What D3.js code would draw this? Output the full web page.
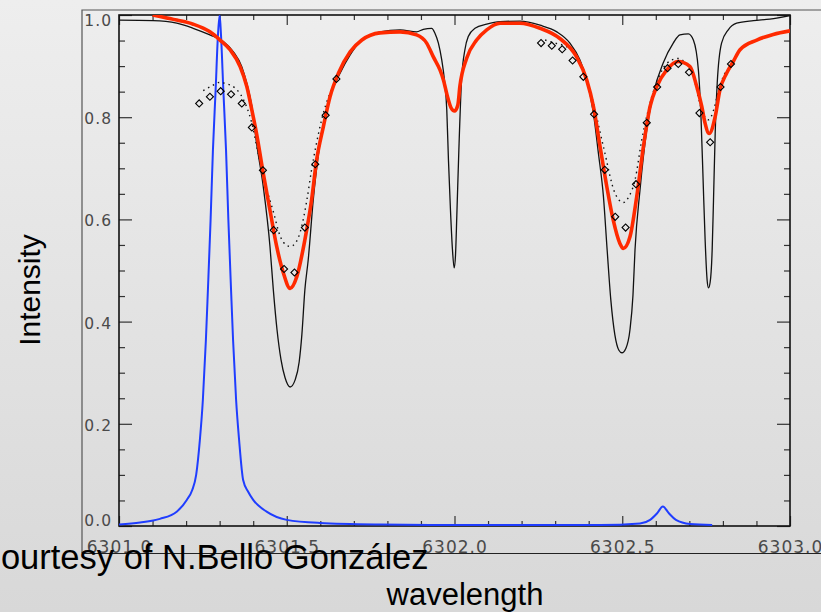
<!DOCTYPE html>
<html>
<head>
<meta charset="utf-8">
<script src="https://cdn.jsdelivr.net/npm/d3@7"></script>
<style>
  html, body { margin: 0; padding: 0; }
  body { width: 821px; height: 612px; overflow: hidden; }
</style>
</head>
<body>
<div id="chart"></div>
<script>
// wavelength (A) / intensity pairs
const atlasWave = [6301.000, 6301.102, 6301.172, 6301.221, 6301.271, 6301.311, 6301.341, 6301.366, 6301.381, 6301.396,
  6301.410, 6301.430, 6301.450, 6301.460, 6301.471, 6301.483, 6301.495, 6301.510, 6301.525, 6301.537,
  6301.545, 6301.554, 6301.564, 6301.579, 6301.599, 6301.629, 6301.659, 6301.689, 6301.724, 6301.778,
  6301.838, 6301.887, 6301.907, 6301.932, 6301.942, 6301.952, 6301.962, 6301.970, 6301.977, 6301.982,
  6301.988, 6301.994, 6301.999, 6302.003, 6302.007, 6302.013, 6302.021, 6302.031, 6302.041, 6302.061,
  6302.096, 6302.136, 6302.195, 6302.255, 6302.305, 6302.344, 6302.374, 6302.394, 6302.414, 6302.429,
  6302.444, 6302.455, 6302.466, 6302.478, 6302.490, 6302.499, 6302.511, 6302.523, 6302.532, 6302.538,
  6302.553, 6302.573, 6302.593, 6302.622, 6302.652, 6302.672, 6302.697, 6302.712, 6302.727, 6302.735,
  6302.741, 6302.747, 6302.753, 6302.757, 6302.762, 6302.768, 6302.772, 6302.777, 6302.783, 6302.796,
  6302.816, 6302.841, 6302.891, 6302.940, 6303.000];
const atlasInt = [0.990, 0.989, 0.984, 0.974, 0.961, 0.948, 0.928, 0.899, 0.866, 0.821,
  0.749, 0.664, 0.547, 0.462, 0.384, 0.325, 0.290, 0.272, 0.286, 0.321,
  0.374, 0.462, 0.521, 0.638, 0.749, 0.840, 0.886, 0.922, 0.951, 0.967,
  0.971, 0.967, 0.972, 0.974, 0.964, 0.945, 0.912, 0.873, 0.814, 0.716,
  0.618, 0.540, 0.505, 0.530, 0.609, 0.736, 0.873, 0.932, 0.958, 0.974,
  0.982, 0.987, 0.988, 0.980, 0.967, 0.945, 0.912, 0.873, 0.808, 0.729,
  0.644, 0.540, 0.442, 0.374, 0.344, 0.339, 0.348, 0.384, 0.452, 0.540,
  0.658, 0.775, 0.847, 0.906, 0.945, 0.961, 0.963, 0.951, 0.892, 0.795,
  0.677, 0.560, 0.481, 0.466, 0.477, 0.540, 0.638, 0.768, 0.866, 0.945,
  0.971, 0.984, 0.989, 0.992, 0.999];

const convWave = [6301.100, 6301.172, 6301.221, 6301.271, 6301.301, 6301.331, 6301.361, 6301.381, 6301.396, 6301.410,
  6301.430, 6301.450, 6301.470, 6301.490, 6301.510, 6301.530, 6301.554, 6301.574, 6301.589, 6301.609,
  6301.629, 6301.654, 6301.689, 6301.724, 6301.778, 6301.838, 6301.887, 6301.917, 6301.937, 6301.957,
  6301.967, 6301.978, 6301.990, 6302.000, 6302.010, 6302.016, 6302.036, 6302.066, 6302.096, 6302.136,
  6302.195, 6302.255, 6302.314, 6302.364, 6302.394, 6302.414, 6302.434, 6302.454, 6302.473, 6302.493,
  6302.503, 6302.523, 6302.543, 6302.563, 6302.583, 6302.603, 6302.632, 6302.667, 6302.702, 6302.722,
  6302.737, 6302.747, 6302.759, 6302.777, 6302.791, 6302.811, 6302.831, 6302.851, 6302.901, 6302.950,
  6303.000];
const convInt = [1.000, 0.990, 0.982, 0.967, 0.951, 0.932, 0.899, 0.860, 0.814, 0.768,
  0.690, 0.618, 0.547, 0.495, 0.465, 0.488, 0.560, 0.638, 0.716, 0.781,
  0.840, 0.886, 0.928, 0.951, 0.965, 0.967, 0.961, 0.945, 0.918, 0.892,
  0.873, 0.843, 0.818, 0.812, 0.824, 0.860, 0.915, 0.951, 0.971, 0.984,
  0.984, 0.974, 0.954, 0.918, 0.873, 0.821, 0.742, 0.664, 0.599, 0.553,
  0.543, 0.566, 0.644, 0.742, 0.821, 0.860, 0.892, 0.909, 0.899, 0.860,
  0.821, 0.788, 0.768, 0.801, 0.853, 0.886, 0.909, 0.932, 0.951, 0.962,
  0.969];

const fitWave1 = [6301.251, 6301.276, 6301.299, 6301.323, 6301.346, 6301.369, 6301.396, 6301.415, 6301.440, 6301.460,
  6301.480, 6301.500, 6301.510, 6301.525, 6301.540, 6301.560, 6301.574, 6301.589, 6301.604, 6301.629, 6301.650];
const fitInt1 = [0.852, 0.861, 0.868, 0.865, 0.857, 0.837, 0.788, 0.729, 0.660, 0.615,
  0.568, 0.549, 0.547, 0.553, 0.575, 0.638, 0.697, 0.750, 0.795, 0.847, 0.875];
const fitWave2 = [6302.270, 6302.300, 6302.334, 6302.374, 6302.409, 6302.444, 6302.478, 6302.503, 6302.520, 6302.538,
  6302.558, 6302.588, 6302.610, 6302.632, 6302.667, 6302.690, 6302.712, 6302.737, 6302.757, 6302.775, 6302.786, 6302.810];
const fitInt2 = [0.951, 0.945, 0.938, 0.909, 0.840, 0.742, 0.652, 0.633, 0.645, 0.677,
  0.755, 0.840, 0.880, 0.905, 0.915, 0.905, 0.879, 0.814, 0.795, 0.820, 0.850, 0.892];

const obsWave = [6301.239, 6301.271, 6301.303, 6301.334, 6301.366, 6301.396, 6301.429, 6301.461, 6301.492, 6301.523,
  6301.554, 6301.585, 6301.616, 6301.648,
  6302.258, 6302.290, 6302.321, 6302.352, 6302.384, 6302.416, 6302.448, 6302.479, 6302.510, 6302.541,
  6302.573, 6302.604, 6302.635, 6302.667, 6302.699, 6302.730, 6302.762, 6302.793, 6302.824];
const obsInt = [0.827, 0.840, 0.851, 0.845, 0.827, 0.780, 0.696, 0.579, 0.503, 0.496,
  0.584, 0.708, 0.804, 0.875,
  0.945, 0.940, 0.933, 0.911, 0.879, 0.806, 0.697, 0.605, 0.584, 0.669,
  0.789, 0.859, 0.896, 0.904, 0.888, 0.808, 0.751, 0.859, 0.904];

const filterWave = [6301.000, 6301.063, 6301.122, 6301.172, 6301.202, 6301.218, 6301.230, 6301.241, 6301.250, 6301.259,
  6301.265, 6301.273, 6301.280, 6301.288, 6301.295, 6301.300, 6301.304, 6301.311, 6301.319, 6301.326,
  6301.334, 6301.340, 6301.349, 6301.358, 6301.370, 6301.385, 6301.400, 6301.440, 6301.500, 6301.599,
  6301.778, 6301.987, 6302.434, 6302.553, 6302.583, 6302.604, 6302.621, 6302.639, 6302.660, 6302.702, 6302.768];
const filterInt = [0.003, 0.007, 0.014, 0.028, 0.051, 0.070, 0.100, 0.168, 0.247, 0.364,
  0.462, 0.599, 0.736, 0.853, 0.961, 1.000, 0.961, 0.853, 0.736, 0.599,
  0.462, 0.364, 0.247, 0.168, 0.090, 0.067, 0.051, 0.028, 0.012, 0.006,
  0.003, 0.002, 0.002, 0.005, 0.012, 0.025, 0.038, 0.025, 0.012, 0.004, 0.002];

const xMajor = [6301.0, 6301.5, 6302.0, 6302.5, 6303.0];
const xLabels = ["6301.0", "6301.5", "6302.0", "6302.5", "6303.0"];
const yMajor = [0.0, 0.2, 0.4, 0.6, 0.8, 1.0];
const yLabels = ["0.0", "0.2", "0.4", "0.6", "0.8", "1.0"];

const zip = (a, b) => a.map((v, i) => [v, b[i]]);

const width = 821, height = 612;
const svg = d3.select("#chart").append("svg")
  .attr("width", width)
  .attr("height", height);

const defs = svg.append("defs");
const grad = defs.append("linearGradient")
  .attr("id", "bg").attr("x1", 0).attr("y1", 0).attr("x2", 0).attr("y2", 1);
grad.append("stop").attr("offset", "0%").attr("stop-color", "#eeeeee");
grad.append("stop").attr("offset", "100%").attr("stop-color", "#d8d8d8");
svg.append("rect").attr("width", width).attr("height", height).attr("fill", "url(#bg)");

const x = d3.scaleLinear().domain([6301, 6303]).range([119, 790]);
const y = d3.scaleLinear().domain([0, 1]).range([526, 15]);

defs.append("clipPath").attr("id", "plotclip")
  .append("rect")
  .attr("x", x(6301)).attr("y", y(1))
  .attr("width", x(6303) - x(6301)).attr("height", y(0) - y(1));

// outer frame of the slide plot
svg.append("path")
  .attr("d", `M82,553V10H${width}`)
  .attr("fill", "none")
  .attr("stroke", "#555")
  .attr("stroke-width", 1.2);
svg.append("line")
  .attr("x1", 82).attr("x2", width).attr("y1", 553.5).attr("y2", 553.5)
  .attr("stroke", "#222").attr("stroke-width", 1.2);

// ticks, drawn inward on all four sides
const tickStyle = (g) => {
  g.select(".domain").remove();
  g.selectAll("line").attr("stroke", "#333").attr("stroke-width", 1.2);
};
const xMinor = d3.range(6301.1, 6303, 0.1).filter((v) => Math.abs(v * 2 - Math.round(v * 2)) > 1e-6);
const yMinor = d3.range(0.05, 1, 0.05).filter((v) => Math.abs(v * 5 - Math.round(v * 5)) > 1e-6);

svg.append("g").attr("transform", `translate(0,${y(0)})`)
  .call(d3.axisBottom(x).tickValues(xMinor).tickSize(-5).tickFormat(""))
  .call(tickStyle);
svg.append("g").attr("transform", `translate(0,${y(1)})`)
  .call(d3.axisTop(x).tickValues(xMinor).tickSize(-5).tickFormat(""))
  .call(tickStyle);
svg.append("g").attr("transform", `translate(0,${y(1)})`)
  .call(d3.axisTop(x).tickValues(xMajor).tickSize(-10).tickFormat(""))
  .call(tickStyle);
svg.append("g").attr("transform", `translate(${x(6301)},0)`)
  .call(d3.axisLeft(y).tickValues(yMinor).tickSize(-6).tickFormat(""))
  .call(tickStyle);
svg.append("g").attr("transform", `translate(${x(6303)},0)`)
  .call(d3.axisRight(y).tickValues(yMinor).tickSize(-6).tickFormat(""))
  .call(tickStyle);
svg.append("g").attr("transform", `translate(${x(6303)},0)`)
  .call(d3.axisRight(y).tickValues(yMajor).tickSize(-13).tickFormat(""))
  .call(tickStyle);

const xAxis = svg.append("g").attr("transform", `translate(0,${y(0)})`)
  .call(d3.axisBottom(x).tickValues(xMajor).tickSize(-10).tickPadding(0)
    .tickFormat((d, i) => xLabels[i]))
  .call(tickStyle);
xAxis.selectAll("text")
  .attr("y", 26.5).attr("dy", null)
  .attr("fill", "#4a4a4a")
  .style("font-family", "DejaVu Sans, sans-serif")
  .style("font-size", "17px")
  .style("letter-spacing", "1px");

const yAxis = svg.append("g").attr("transform", `translate(${x(6301)},0)`)
  .call(d3.axisLeft(y).tickValues(yMajor).tickSize(-13).tickPadding(7)
    .tickFormat((d, i) => yLabels[i]))
  .call(tickStyle);
yAxis.selectAll("text")
  .attr("dy", (d) => (d === 1 ? "0.32em" : d === 0 ? "-0.05em" : "0.42em"))
  .attr("y", (d) => (d === 1 ? 6 : 0))
  .attr("fill", "#4a4a4a")
  .style("font-family", "DejaVu Sans, sans-serif")
  .style("font-size", "15.5px")
  .style("letter-spacing", "1px");

// plot box
svg.append("rect")
  .attr("x", x(6301)).attr("y", y(1))
  .attr("width", x(6303) - x(6301)).attr("height", y(0) - y(1))
  .attr("fill", "none").attr("stroke", "#111").attr("stroke-width", 1.6);

const plot = svg.append("g").attr("clip-path", "url(#plotclip)");

const smooth = d3.line().x((d) => x(d[0])).y((d) => y(d[1])).curve(d3.curveMonotoneX);

plot.append("path")
  .attr("d", smooth(zip(filterWave, filterInt)))
  .attr("fill", "none").attr("stroke", "#1f3dff").attr("stroke-width", 2);

plot.append("path")
  .attr("d", smooth(zip(atlasWave, atlasInt)))
  .attr("fill", "none").attr("stroke", "#111").attr("stroke-width", 1.3);

[zip(fitWave1, fitInt1), zip(fitWave2, fitInt2)].forEach((seg) => {
  plot.append("path")
    .attr("d", smooth(seg))
    .attr("fill", "none").attr("stroke", "#111").attr("stroke-width", 1.4)
    .attr("stroke-dasharray", "1.5,4");
});

plot.append("path")
  .attr("d", smooth(zip(convWave, convInt)))
  .attr("fill", "none").attr("stroke", "#ff2a00").attr("stroke-width", 3.6)
  .attr("stroke-linejoin", "round");

plot.selectAll(".obs")
  .data(zip(obsWave, obsInt))
  .join("path")
  .attr("class", "obs")
  .attr("d", d3.symbol(d3.symbolSquare, 25))
  .attr("transform", (d) => `translate(${x(d[0])},${y(d[1])}) rotate(45)`)
  .attr("fill", "none").attr("stroke", "#000").attr("stroke-width", 1.1);

// titles
svg.append("text")
  .attr("transform", "translate(40,290) rotate(-90)")
  .attr("text-anchor", "middle")
  .style("font-family", "Liberation Sans, Arial, sans-serif")
  .style("font-size", "30px")
  .text("Intensity");

svg.append("text")
  .attr("x", 465).attr("y", 605)
  .attr("text-anchor", "middle")
  .style("font-family", "Liberation Sans, Arial, sans-serif")
  .style("font-size", "31px")
  .text("wavelength");

svg.append("text")
  .attr("x", -24).attr("y", 569)
  .style("font-family", "Liberation Sans, Arial, sans-serif")
  .style("font-size", "34.5px")
  .text("Courtesy of N.Bello González");
</script>
</body>
</html>
